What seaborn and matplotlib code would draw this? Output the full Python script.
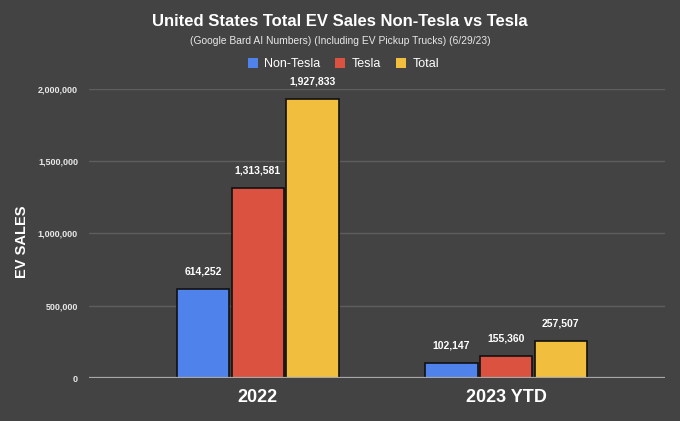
import matplotlib
matplotlib.use("Agg")
import matplotlib.pyplot as plt
import seaborn as sns
import pandas as pd
from matplotlib.ticker import FuncFormatter
from matplotlib.patches import Patch

categories = ["2022", "2023 YTD"]
series_names = ["Non-Tesla", "Tesla", "Total"]
non_tesla = [614252, 102147]
tesla = [1313581, 155360]
total = [1927833, 257507]
colors = ["#5082EC", "#DB5240", "#F2BE3E"]

rows = []
for s, vals in zip(series_names, [non_tesla, tesla, total]):
    for c, v in zip(categories, vals):
        rows.append({"Year": c, "Series": s, "Sales": v})
df = pd.DataFrame(rows)

sns.set_theme(style="dark")
plt.rcParams["font.family"] = ["Liberation Sans", "DejaVu Sans"]
bg = "#434343"

fig = plt.figure(figsize=(6.8, 4.21), dpi=100, facecolor=bg)
ax = fig.add_axes([0.131, 0.102, 0.847, 0.687])
ax.set_facecolor(bg)

sns.barplot(data=df, x="Year", y="Sales", hue="Series", order=categories,
            hue_order=series_names, palette=colors, saturation=1, width=0.66, gap=0.04,
            edgecolor="#111111", linewidth=1.2, ax=ax, legend=False, zorder=3)

ax.set_ylim(0, 2000000)
ax.set_xlim(-0.68, 1.64)
ax.set_yticks([0, 500000, 1000000, 1500000, 2000000])
ax.yaxis.set_major_formatter(FuncFormatter(lambda v, p: f"{int(v):,}"))
ax.grid(axis="y", color="#5e5e5e", linewidth=1.0, zorder=0)
ax.grid(axis="x", visible=False)
for sp in ax.spines.values():
    sp.set_visible(False)
ax.axhline(0, color="#a8a8a8", linewidth=1.6, zorder=4)
ax.tick_params(axis="y", colors="#e8e8e8", labelsize=6.5, length=0, pad=8)
ax.tick_params(axis="x", colors="white", labelsize=13, length=0, pad=8)
for lab in ax.get_yticklabels():
    lab.set_fontweight("bold")
for lab in ax.get_xticklabels():
    lab.set_fontweight("bold")
ax.set_xlabel("")
ax.set_ylabel("EV SALES", color="white", fontsize=10.5, fontweight="bold")
ax.yaxis.set_label_coords(-0.105, 0.47)

for cont in ax.containers:
    labels = [f"{int(b.get_height()):,}" for b in cont]
    ax.bar_label(cont, labels=labels, padding=9, color="white", fontsize=7.5,
                 fontweight="bold", clip_on=False)

fig.text(0.5, 0.948, "United States Total EV Sales Non-Tesla vs Tesla", ha="center",
         va="center", color="white", fontsize=12, fontweight="heavy")
fig.text(0.5, 0.903, "(Google Bard AI Numbers) (Including EV Pickup Trucks) (6/29/23)",
         ha="center", va="center", color="#e8e8e8", fontsize=7.4)

handles = [Patch(facecolor=c, edgecolor="none") for c in colors]
leg = fig.legend(handles, series_names, loc="center", bbox_to_anchor=(0.505, 0.847),
                 ncol=3, frameon=False, fontsize=9, handlelength=0.8, handleheight=0.8,
                 handletextpad=0.5, columnspacing=1.2)
for t in leg.get_texts():
    t.set_color("white")

fig.savefig("out.png", dpi=100, facecolor=bg)
